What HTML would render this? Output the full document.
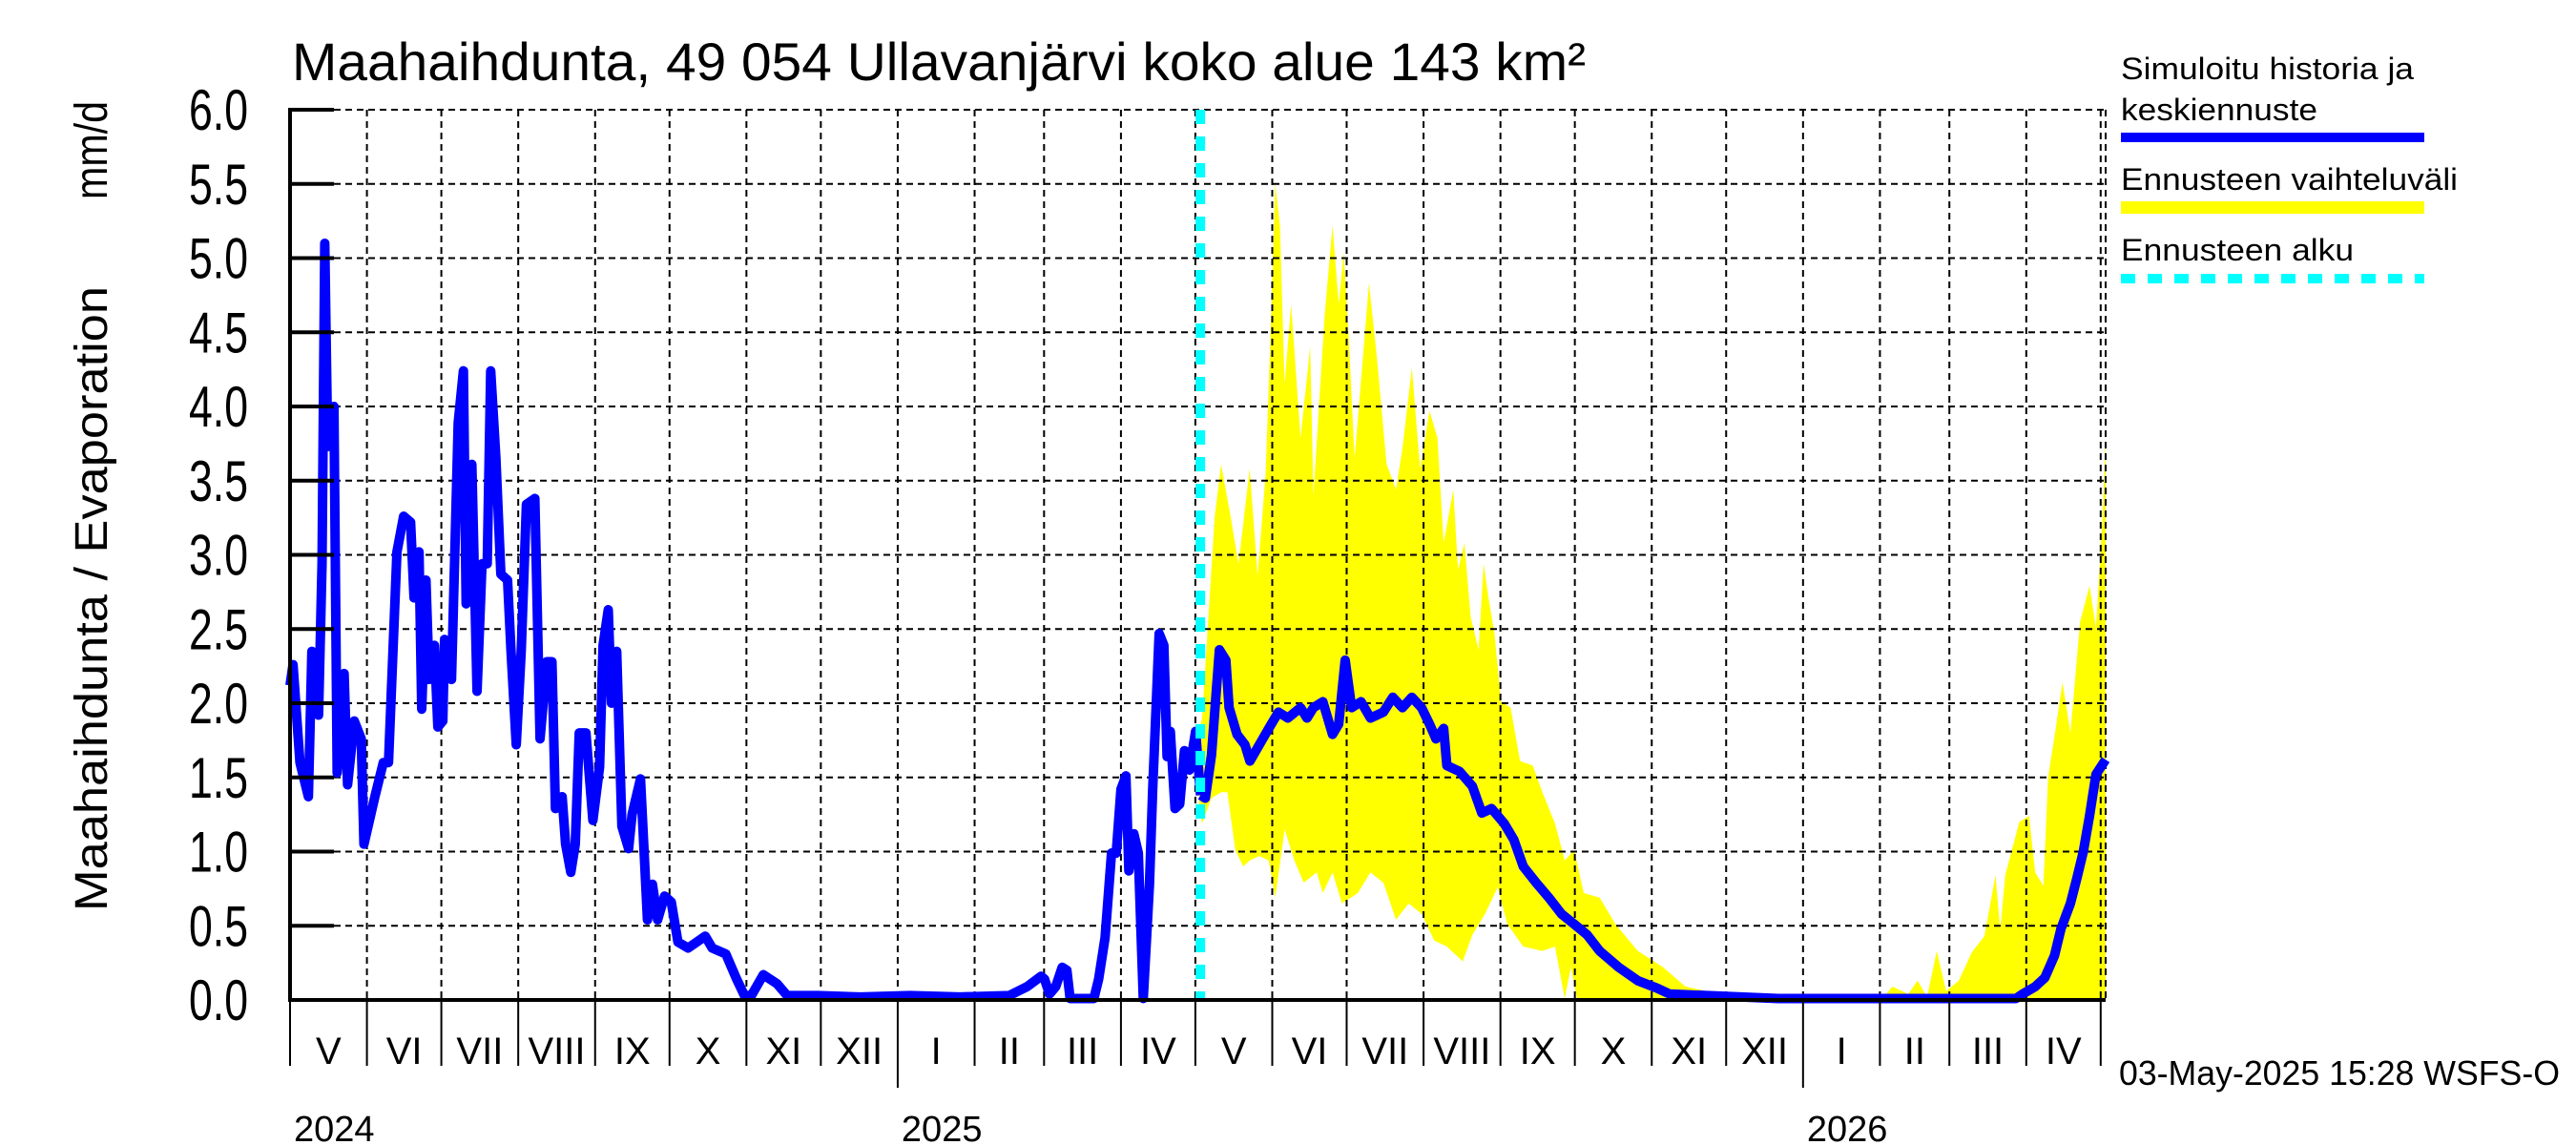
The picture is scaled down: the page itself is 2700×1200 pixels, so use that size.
<!DOCTYPE html>
<html><head><meta charset="utf-8"><style>
html,body{margin:0;padding:0;background:#fff;}
svg{display:block;font-family:"Liberation Sans",Arial,sans-serif;}
</style></head><body>
<svg id="chart" width="2700" height="1200" viewBox="0 0 2700 1200" xmlns="http://www.w3.org/2000/svg">
<rect x="0" y="0" width="2700" height="1200" fill="#fff"/>
<text x="306" y="84" font-size="56" textLength="1356" lengthAdjust="spacingAndGlyphs">Maahaihdunta, 49 054 Ullavanjärvi koko alue 143 km²</text>
<text transform="translate(112,955) rotate(-90)" font-size="48" textLength="655" lengthAdjust="spacingAndGlyphs">Maahaihdunta / Evaporation</text>
<text transform="translate(112,209) rotate(-90)" font-size="48" textLength="103" lengthAdjust="spacingAndGlyphs">mm/d</text>
<g id="band"></g><g id="grid"></g><g id="series"></g><g id="axes"></g>
<g>
<text x="2223" y="83" font-size="32" textLength="307" lengthAdjust="spacingAndGlyphs">Simuloitu historia ja</text>
<text x="2223" y="126" font-size="32" textLength="206" lengthAdjust="spacingAndGlyphs">keskiennuste</text>
<rect x="2223" y="139" width="318" height="10" fill="#0000ff"/>
<text x="2223" y="199" font-size="32" textLength="353" lengthAdjust="spacingAndGlyphs">Ennusteen vaihteluväli</text>
<rect x="2223" y="211" width="318" height="13" fill="#ffff00"/>
<text x="2223" y="273" font-size="32" textLength="244" lengthAdjust="spacingAndGlyphs">Ennusteen alku</text>
<line x1="2223" y1="292" x2="2541" y2="292" stroke="#00ffff" stroke-width="10" stroke-dasharray="15 13"/>
</g>
<text x="2221" y="1137" font-size="36" textLength="462" lengthAdjust="spacingAndGlyphs">03-May-2025 15:28 WSFS-O</text>
</svg>
<script>
// day index from 2024-05-01
const histDays=[0,1.2,4,7.4,8.8,11.5,12.9,14,15.2,17.7,19,21.8,23.2,25.9,28.7,29.8,34.2,37.6,39.7,43.1,45.8,48.6,50,52,53.1,54.8,56.1,58.2,59.6,61.6,62.3,65.1,67.8,69.9,71,73.3,75.4,77.4,79.5,80.9,83,85,87.7,89.1,91.2,93.2,95.3,98.7,100.8,103.5,105.6,107,109.7,111.1,113.2,115,116.6,119.3,122.1,124.8,126.2,128.3,129.6,131.7,133.8,136.5,137.9,141.3,144.1,146.1,148.2,151,153.7,156.4,160.5,167.4,170.2,175.7,179.8,183.2,186,190.8,196.3,200.4,212.7,230,250,270,290,297.2,302.8,304.2,306.2,308.7,311.3,313.2,314.5,324.1,326,328.6,331.2,333.1,335,337,338.2,340.2,342,344,346.5,347.8,350.4,352.3,353.6,354.9,356.8,358.7,360.6,362.6,365.1,367.1];
const histVals=[2.12,2.26,1.6,1.37,2.35,1.92,2.94,5.1,3.73,4.0,1.53,2.2,1.45,1.88,1.76,1.05,1.37,1.6,1.6,3.02,3.26,3.22,2.71,3.02,1.96,2.83,2.16,2.39,1.84,1.88,2.43,2.16,3.89,4.24,2.67,3.61,2.08,2.94,2.94,4.24,3.65,2.87,2.83,2.35,1.72,2.35,3.34,3.38,1.76,2.28,2.28,1.29,1.37,1.05,0.86,1.05,1.8,1.8,1.21,1.57,2.39,2.63,2.0,2.35,1.17,1.02,1.25,1.49,0.54,0.78,0.54,0.7,0.66,0.39,0.35,0.43,0.35,0.31,0.15,0.03,0.03,0.17,0.11,0.03,0.03,0.02,0.03,0.02,0.03,0.09,0.16,0.14,0.04,0.09,0.22,0.2,0.01,0.01,0.14,0.42,0.99,0.99,1.42,1.51,0.87,1.12,0.99,0.01,0.78,1.42,2.47,2.39,1.64,1.81,1.29,1.32,1.68,1.55,1.81,1.38];
const fcDays=[367.1,369,371.5,374.7,377.3,378.6,381.8,385,387,390.8,394.6,398.5,402.3,407.4,410,412.6,416.4,420.3,422.8,425.4,428,431.8,435.6,440.8,444.6,448.5,452.3,456.2,459.4,462,465.1,466.4,471.5,476.7,480.5,484.4,489.5,493.4,497.2,502.4,507.5,512.6,517.8,522.9,528,535.7,543.4,551.1,556.2,600,650,695.9,698.5,703.6,707.5,711.4,714,717.8,720.4,723,725.5,728.1,732];
const fcVals=[1.38,1.36,1.65,2.36,2.29,1.97,1.79,1.72,1.61,1.72,1.83,1.94,1.9,1.97,1.9,1.97,2.01,1.79,1.86,2.29,1.97,2.01,1.9,1.94,2.04,1.97,2.04,1.97,1.86,1.76,1.83,1.58,1.54,1.44,1.26,1.29,1.19,1.08,0.9,0.79,0.69,0.58,0.51,0.44,0.33,0.22,0.13,0.08,0.04,0.01,0.01,0.01,0.04,0.09,0.15,0.3,0.48,0.65,0.82,1.0,1.24,1.52,1.62];
const upDays=[366.5,367.7,372.8,375.4,379.2,382.4,386.9,390.1,393.3,395.2,397.2,399.1,401,403.6,407.4,411.3,412.6,417.1,420.3,422.8,424.8,426.7,429.2,435,438.2,442.1,445.9,448.5,452.3,455.6,459.4,462.6,465.1,469,470.9,473.5,476,479.2,481.2,483.1,485.6,488.2,492.1,495.9,501,504.9,510,513.9,517.7,521.6,528,534.4,543.4,553.6,562.6,579.3,600,642,646,652.4,656.2,660,663.9,667.7,672.8,678,683.1,687.6,689.5,691.5,697.2,701.1,703.6,706.9,708.8,711.4,714.6,717.8,721.7,725.5,728.1,730.6,732];
const upVals=[1.8,1.9,3.26,3.61,3.26,2.94,3.58,2.86,3.54,4.44,5.5,5.22,4.15,4.69,3.79,4.4,3.4,4.61,5.22,4.69,5.04,4.51,3.65,4.83,4.33,3.61,3.44,3.72,4.26,3.58,3.97,3.79,3.08,3.44,2.9,3.08,2.58,2.36,2.94,2.72,2.47,2.01,1.97,1.61,1.58,1.4,1.19,0.94,1.01,0.72,0.69,0.51,0.33,0.22,0.09,0.03,0.01,0.01,0.09,0.04,0.13,0.02,0.33,0.06,0.13,0.32,0.43,0.84,0.47,0.84,1.2,1.24,0.86,0.77,1.5,1.78,2.14,1.8,2.55,2.79,2.51,3.2,3.8];
const loDays=[366.5,367.7,371.5,375.4,377.9,381.1,384.3,386.9,390.8,394.6,397.2,401,404.9,408.7,413.9,416.4,420.3,424.1,430.5,435.6,440.8,445.9,451,456.2,461.3,466.4,472.8,476.7,481.8,486.9,490.8,497.2,504.9,510,513.9,516.4,519,732];
const loVals=[1.3,1.19,1.36,1.4,1.4,1.01,0.9,0.94,0.97,0.94,0.69,1.15,0.94,0.79,0.86,0.72,0.86,0.65,0.72,0.86,0.79,0.54,0.65,0.58,0.4,0.36,0.26,0.44,0.58,0.76,0.51,0.36,0.33,0.36,0.01,0.22,0,0];
const yTicks=["0.0","0.5","1.0","1.5","2.0","2.5","3.0","3.5","4.0","4.5","5.0","5.5","6.0"];
const monthLabels=["V","VI","VII","VIII","IX","X","XI","XII","I","II","III","IV","V","VI","VII","VIII","IX","X","XI","XII","I","II","III","IV"];
const yearLabels=["2024","2025","2026"];
const forecastStartDay=367;

const X0=304,X1=2207,Y0=1048,DAYMAX=732,VMAX=6;
const xs=d=>X0+d*(X1-X0)/DAYMAX;
const ys=v=>Y0-v*(Y0-115)/VMAX;
const NS="http://www.w3.org/2000/svg";
function mk(tag,parent,attrs){const e=document.createElementNS(NS,tag);for(const k in attrs)e.setAttribute(k,attrs[k]);parent.appendChild(e);return e;}
const gBand=document.getElementById('band'),gGrid=document.getElementById('grid'),gSer=document.getElementById('series'),gAx=document.getElementById('axes');

let pts=upDays.map((d,i)=>xs(d)+","+ys(upVals[i]));
for(let i=loDays.length-1;i>=0;i--)pts.push(xs(loDays[i])+","+ys(loVals[i]));
const band=mk('polygon',gBand,{points:pts.join(" "),fill:"#ffff00"});



yTicks.forEach((t,i)=>{
  const v=parseFloat(t),y=ys(v);
  if(i>0){const gl=mk('line',gGrid,{x1:350,y1:y,x2:X1,y2:y,stroke:"#000","stroke-width":2,"stroke-dasharray":"7 5"});
  
  }
  const tk=mk('line',gAx,{x1:X0,y1:y,x2:350,y2:y,stroke:"#000","stroke-width":4});
  
  
  const tx=mk('text',gAx,{x:260,y:y+21,"font-size":60,"text-anchor":"end",textLength:62,lengthAdjust:"spacingAndGlyphs"});
  tx.textContent=t;
  
  
});

const base=Date.UTC(2024,4,1);
let bounds=[];
for(let m=0;m<=24;m++){const d=(Date.UTC(2024,4+m,1)-base)/86400000;bounds.push({d:d,jan:((4+m)%12)===0});}
bounds.forEach((b,i)=>{
  const x=xs(b.d);
  if(i>0){const gl=mk('line',gGrid,{x1:x,y1:115,x2:x,y2:Y0,stroke:"#000","stroke-width":2,"stroke-dasharray":"7 5"});
  
  }
  const tk=mk('line',gAx,{x1:x,y1:Y0,x2:x,y2:b.jan?1140:1117,stroke:"#000","stroke-width":2});
  
  
});
const rg=mk('line',gGrid,{x1:X1,y1:115,x2:X1,y2:Y0,stroke:"#000","stroke-width":2,"stroke-dasharray":"7 5"});


const tg=mk('line',gGrid,{x1:350,y1:115,x2:X1,y2:115,stroke:"#000","stroke-width":2,"stroke-dasharray":"7 5"});


monthLabels.forEach((l,i)=>{
  const a=bounds[i].d,b=Math.min(bounds[i+1].d,DAYMAX);
  const t=mk('text',gAx,{x:(xs(a)+xs(b))/2,y:1115,"font-size":40,"text-anchor":"middle"});
  t.textContent=l;
  
  
});
const yearDays=[0,245,610];
yearLabels.forEach((l,i)=>{
  const t=mk('text',gAx,{x:xs(yearDays[i])+4,y:1196,"font-size":38});
  t.textContent=l;
  
  
});

const hl=mk('polyline',gSer,{points:histDays.map((d,i)=>xs(d)+","+ys(histVals[i])).join(" "),fill:"none",stroke:"#0000ff","stroke-width":10,"stroke-linejoin":"round"});


const fl=mk('polyline',gSer,{points:fcDays.map((d,i)=>xs(d)+","+ys(fcVals[i])).join(" "),fill:"none",stroke:"#0000ff","stroke-width":10,"stroke-linejoin":"round"});


const cl=mk('line',gSer,{x1:xs(forecastStartDay),y1:115,x2:xs(forecastStartDay),y2:Y0,stroke:"#00ffff","stroke-width":10,"stroke-dasharray":"15 13"});



const la=mk('line',gAx,{x1:X0,y1:113,x2:X0,y2:Y0+2,stroke:"#000","stroke-width":4});


const ba=mk('line',gAx,{x1:X0,y1:Y0,x2:X1,y2:Y0,stroke:"#000","stroke-width":4});


</script>
</body></html>
